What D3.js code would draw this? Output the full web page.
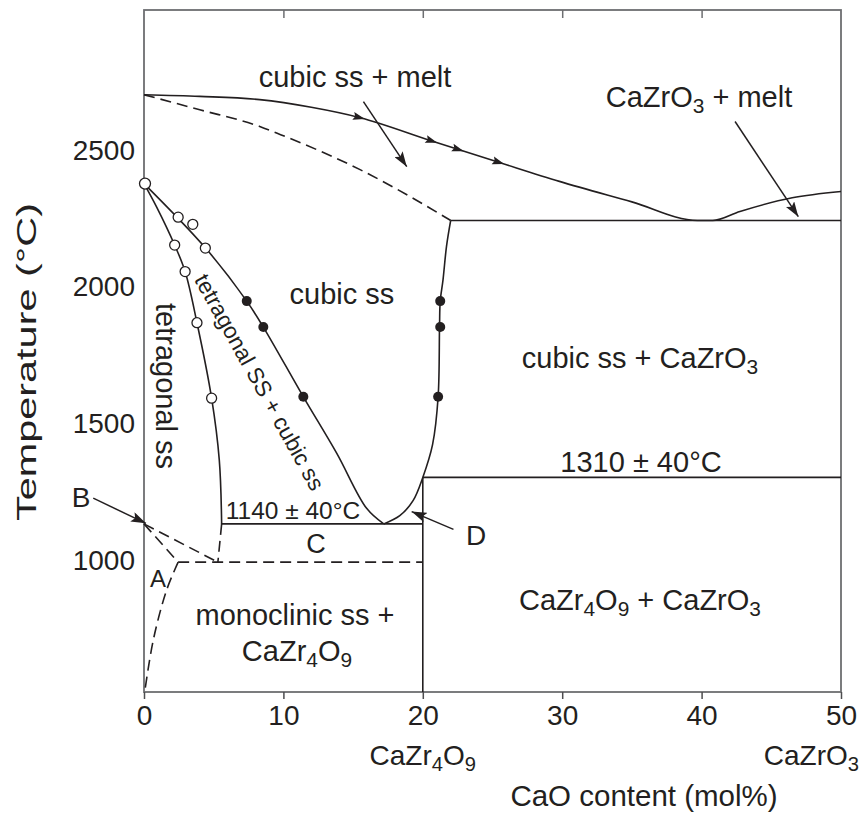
<!DOCTYPE html>
<html>
<head>
<meta charset="utf-8">
<script src="https://cdn.jsdelivr.net/npm/d3@7"></script>
<style>
  body { margin: 0; background: #fff; }
  text { font-family: "Liberation Sans", Arial, Helvetica, sans-serif; fill: #231f20; }
</style>
</head>
<body>
<svg id="chart" width="861" height="816"></svg>
<script>
// ---- Axis values -------------------------------------------------------
const xTicks = [0, 10, 20, 30, 40, 50];
const xTopTicks = [10, 20, 30, 40];
const yTickLabels = [1000, 1500, 2000, 2500];

// ---- Phase boundaries: [CaO mol%, temperature °C] ------------------------
// liquidus from ZrO2 down to the eutectic and up to CaZrO3
const liquidus = [[0, 2710], [4, 2704], [8.3, 2692], [12, 2664], [15.5, 2626], [20.7, 2540],
  [25.5, 2462], [29.8, 2393], [35, 2318], [39.7, 2250], [40.8, 2250], [42.75, 2283],
  [46.5, 2333], [50, 2356]];
// positions of the direction arrowheads on the liquidus
const liquidusArrows = [15.5, 20.7, 22.6, 25.5];
// solidus of the cubic solid solution (dashed)
const cubicSolidus = [[0, 2710], [4, 2655], [8.3, 2594], [9.8, 2564], [15.5, 2436], [19.1, 2337], [22, 2250]];
// eutectic isotherm cubic ss / CaZrO3
const eutecticLine = [[22, 2250], [50, 2250]];
// CaO-rich limit of cubic ss
const cubicRight = [[22, 2250], [21.7, 2155], [21.45, 2033], [21.25, 1955], [21.2, 1860], [21.1, 1605],
  [20.7, 1430], [20, 1310], [19.3, 1225], [18.35, 1170], [17.2, 1140]];
// ZrO2-rich limit of cubic ss
const cubicLeft = [[0, 2385], [4.4, 2150], [7.37, 1955], [8.56, 1860], [11.43, 1605], [13.82, 1399],
  [15.97, 1197], [17.2, 1140]];
// CaO-rich limit of tetragonal ss
const tetragonalLimit = [[0, 2385], [0.9, 2300], [2.2, 2160], [2.95, 2063], [3.8, 1876], [4.85, 1600],
  [5.4, 1374], [5.57, 1140]];
const tetragonalLimitLow = [[5.57, 1140], [5.3, 1000]];
// isotherms
const eutectoid1140 = [[5.57, 1140], [20, 1140]];
const eutectoid1310 = [[20, 1310], [50, 1310]];
const compoundLine = [[20, 1310], [20, 525]];
// low-temperature (dashed) boundaries around A and B
const dashedB1 = [[0, 1140], [5.3, 1000]];
const dashedB2 = [[0, 1140], [2.45, 1000]];
const dashed1000 = [[2.45, 1000], [20, 1000]];
const dashedA = [[2.45, 1000], [1.63, 899], [0.67, 716], [0.05, 525]];

// ---- Experimental points -------------------------------------------------
const pureZrO2Point = [[0, 2385]];
const tetragonalOpen = [[2.2, 2160], [2.95, 2063], [3.8, 1876], [4.85, 1600]];
const cubicOpen = [[2.45, 2262], [3.5, 2236], [4.4, 2149]];
const cubicFilled = [[7.37, 1955], [8.56, 1860], [11.43, 1605], [21.25, 1955], [21.25, 1860], [21.1, 1605]];

// ---- Scales ---------------------------------------------------------------
const x = d3.scaleLinear().domain([0, 50]).range([144, 841]);
const y = d3.scaleLinear().domain([525, 3020]).range([692, 10]);

const svg = d3.select("#chart");
const ink = "#231f20";
const FONT = "'Liberation Sans', Arial, sans-serif";

// arrowhead marker for the pointer arrows
const defs = svg.append("defs");
defs.append("marker")
  .attr("id", "head")
  .attr("viewBox", "0 -5 15 10")
  .attr("refX", 15).attr("refY", 0)
  .attr("markerWidth", 15).attr("markerHeight", 10)
  .attr("markerUnits", "userSpaceOnUse")
  .attr("orient", "auto")
  .append("path").attr("d", "M0,-5L15,0L0,5L3,0Z").attr("fill", ink);

// ---- Frame and axes -------------------------------------------------------
svg.append("rect")
  .attr("x", x(0)).attr("y", y(3020))
  .attr("width", x(50) - x(0)).attr("height", y(525) - y(3020))
  .attr("fill", "none").attr("stroke", "#6d6e71").attr("stroke-width", 1.8);

const xAxis = svg.append("g")
  .attr("transform", `translate(0,${y(525)})`)
  .call(d3.axisBottom(x).tickValues(xTicks).tickSize(7).tickPadding(6).tickFormat(d3.format("d")));
xAxis.select(".domain").remove();
xAxis.selectAll("line").attr("stroke", "#4d4d4f").attr("stroke-width", 1.5);
xAxis.selectAll("text").attr("font-size", 28).attr("fill", ink).style("font-family", FONT);

const topAxis = svg.append("g")
  .attr("transform", `translate(0,${y(3020)})`)
  .call(d3.axisTop(x).tickValues(xTopTicks).tickSize(-8).tickFormat(""));
topAxis.select(".domain").remove();
topAxis.selectAll("line").attr("stroke", "#6d6e71").attr("stroke-width", 1.5);

const yAxis = svg.append("g")
  .attr("transform", `translate(${x(0)},0)`)
  .call(d3.axisLeft(y).tickValues(yTickLabels).tickSize(0).tickPadding(9).tickFormat(d3.format("d")));
yAxis.select(".domain").remove();
yAxis.selectAll("text").attr("font-size", 28).attr("fill", ink).attr("transform", "translate(0,-2)")
  .style("font-family", FONT);

// axis titles
svg.append("text")
  .attr("transform", "translate(36,362) rotate(-90)")
  .attr("text-anchor", "middle")
  .attr("font-size", 28)
  .attr("textLength", 318)
  .attr("lengthAdjust", "spacingAndGlyphs")
  .text("Temperature (°C)");

svg.append("text")
  .attr("x", 644).attr("y", 806)
  .attr("text-anchor", "middle")
  .attr("font-size", 29.5)
  .text("CaO content (mol%)");

// text with chemical subscripts: parts are [string, isSubscript]
function chem(g, parts, attrs, size) {
  const t = g.append("text").attr("font-size", size);
  Object.entries(attrs).forEach(([k, v]) => t.attr(k, v));
  const shift = size * 0.22;
  parts.forEach(([s, sub], i) => {
    const sp = t.append("tspan").text(s);
    const prevSub = i > 0 && parts[i - 1][1];
    if (sub) sp.attr("font-size", size * 0.72).attr("dy", prevSub ? 0 : shift);
    else sp.attr("dy", prevSub ? -shift : 0);
  });
  return t;
}

chem(svg, [["CaZr", 0], ["4", 1], ["O", 0], ["9", 1]], { x: x(20), y: 765, "text-anchor": "middle" }, 28);
chem(svg, [["CaZrO", 0], ["3", 1]], { x: 859, y: 765, "text-anchor": "end" }, 28);

// ---- Phase boundary lines ---------------------------------------------------
const plot = svg.append("g");
const lineMono = d3.line().x(d => x(d[0])).y(d => y(d[1])).curve(d3.curveMonotoneX);
const lineCR = d3.line().x(d => x(d[0])).y(d => y(d[1])).curve(d3.curveCatmullRom.alpha(0.5));
const lineStraight = d3.line().x(d => x(d[0])).y(d => y(d[1]));

function draw(data, gen, dashed) {
  return plot.append("path")
    .attr("d", gen(data))
    .attr("fill", "none")
    .attr("stroke", ink)
    .attr("stroke-width", 1.6)
    .attr("stroke-dasharray", dashed ? "11,6" : null);
}

const liqPath = draw(liquidus, lineMono, false);
draw(cubicSolidus, lineMono, true);
draw(eutecticLine, lineStraight, false);
draw(cubicRight, lineCR, false);
draw(cubicLeft, lineCR, false);
draw(tetragonalLimit, lineCR, false);
draw(tetragonalLimitLow, lineStraight, true);
draw(eutectoid1140, lineStraight, false);
draw(eutectoid1310, lineStraight, false);
draw(compoundLine, lineStraight, false);
draw(dashedB1, lineStraight, true);
draw(dashedB2, lineStraight, true);
draw(dashed1000, lineStraight, true);
draw(dashedA, lineCR, true);

// arrowheads along the liquidus, located on the drawn path
const node = liqPath.node();
const total = node.getTotalLength();
liquidusArrows.forEach(v => {
  const target = x(v);
  let lo = 0, hi = total;
  for (let i = 0; i < 40; i++) {
    const mid = (lo + hi) / 2;
    if (node.getPointAtLength(mid).x < target) lo = mid; else hi = mid;
  }
  const p = node.getPointAtLength(lo);
  const a = node.getPointAtLength(Math.max(0, lo - 2));
  const b = node.getPointAtLength(Math.min(total, lo + 2));
  const ang = Math.atan2(b.y - a.y, b.x - a.x) * 180 / Math.PI;
  plot.append("path")
    .attr("d", "M5,0L-7,-4L-5,0L-7,4Z")
    .attr("fill", ink)
    .attr("transform", `translate(${p.x},${p.y}) rotate(${ang})`);
});

// ---- Data points ------------------------------------------------------------
plot.selectAll("circle.pure").data(pureZrO2Point).join("circle")
  .attr("cx", d => x(d[0]) + 1).attr("cy", d => y(d[1])).attr("r", 5.5)
  .attr("fill", "#fff").attr("stroke", ink).attr("stroke-width", 1.3);
plot.selectAll("circle.open").data(tetragonalOpen.concat(cubicOpen)).join("circle")
  .attr("cx", d => x(d[0])).attr("cy", d => y(d[1])).attr("r", 5)
  .attr("fill", "#fff").attr("stroke", ink).attr("stroke-width", 1.3);
plot.selectAll("circle.filled").data(cubicFilled).join("circle")
  .attr("cx", d => x(d[0])).attr("cy", d => y(d[1])).attr("r", 5)
  .attr("fill", ink);

// ---- Pointer arrows -------------------------------------------------------
const pointers = [
  [[15.74, 2685], [18.85, 2447]],   // cubic ss + melt
  [[42.4, 2612], [46.94, 2264]],    // CaZrO3 + melt
  [[-3.64, 1234], [0.14, 1142]],    // B
  [[22.2, 1120], [19.2, 1185]]      // D
];
pointers.forEach(([from, to]) => {
  plot.append("line")
    .attr("x1", x(from[0])).attr("y1", y(from[1]))
    .attr("x2", x(to[0])).attr("y2", y(to[1]))
    .attr("stroke", ink).attr("stroke-width", 1.5)
    .attr("marker-end", "url(#head)");
});

// ---- Region labels ----------------------------------------------------------
const labels = svg.append("g");
function label(txt, px, py, size, anchor) {
  return labels.append("text").attr("x", px).attr("y", py)
    .attr("font-size", size).attr("text-anchor", anchor || "middle").text(txt);
}
label("cubic ss + melt", 355, 87, 29);
chem(labels, [["CaZrO", 0], ["3", 1], [" + melt", 0]], { x: 699, y: 107, "text-anchor": "middle" }, 29);
label("cubic ss", 342, 304, 29);
chem(labels, [["cubic ss + CaZrO", 0], ["3", 1]], { x: 640, y: 368, "text-anchor": "middle" }, 29);
label("1310 \u00b1 40\u00b0C", 641, 472, 29);
label("1140 \u00b1 40\u00b0C", 293, 519, 24.5);
label("C", 316, 553, 27);
label("D", 476, 545, 28);
label("A", 158, 587, 24);
label("B", 81, 507, 28);
label("monoclinic ss +", 295, 625, 29);
chem(labels, [["CaZr", 0], ["4", 1], ["O", 0], ["9", 1]], { x: 297, y: 661, "text-anchor": "middle" }, 29);
chem(labels, [["CaZr", 0], ["4", 1], ["O", 0], ["9", 1], [" + CaZrO", 0], ["3", 1]], { x: 640, y: 610, "text-anchor": "middle" }, 29);

labels.append("text")
  .attr("transform", "translate(164,386) rotate(90)")
  .attr("text-anchor", "middle").attr("dominant-baseline", "middle")
  .attr("font-size", 29).text("tetragonal ss");
labels.append("text")
  .attr("transform", "translate(258,383) rotate(61)")
  .attr("text-anchor", "middle").attr("dominant-baseline", "middle")
  .attr("font-size", 22.5).text("tetragonal SS + cubic ss");
</script>
</body>
</html>
